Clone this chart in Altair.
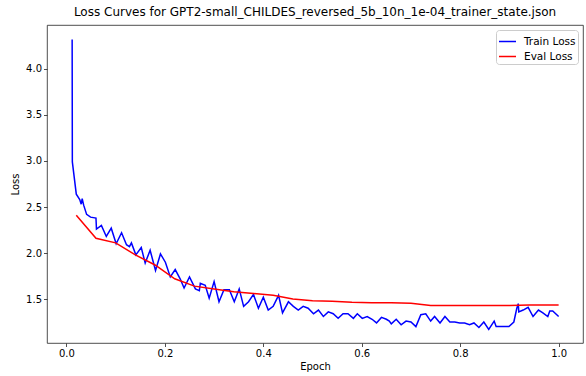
import altair as alt
import pandas as pd

TITLE = "Loss Curves for GPT2-small_CHILDES_reversed_5b_10n_1e-04_trainer_state.json"

train_epoch = [0.0116, 0.012, 0.020, 0.027, 0.030, 0.032, 0.035, 0.041, 0.049, 0.060,
               0.061, 0.071, 0.081, 0.091, 0.101, 0.112, 0.122, 0.128, 0.132, 0.141,
               0.152, 0.160, 0.170, 0.181, 0.191, 0.201, 0.211, 0.221, 0.231, 0.239,
               0.250, 0.262, 0.270, 0.272, 0.282, 0.290, 0.300, 0.310, 0.320, 0.331,
               0.341, 0.351, 0.360, 0.370, 0.380, 0.390, 0.400, 0.410, 0.420, 0.431,
               0.439, 0.451, 0.461, 0.471, 0.481, 0.491, 0.502, 0.512, 0.522, 0.532,
               0.542, 0.552, 0.562, 0.572, 0.583, 0.591, 0.601, 0.611, 0.621, 0.630,
               0.640, 0.650, 0.656, 0.660, 0.670, 0.680, 0.690, 0.700, 0.710, 0.720,
               0.730, 0.740, 0.748, 0.759, 0.769, 0.779, 0.789, 0.799, 0.809, 0.819,
               0.828, 0.838, 0.848, 0.858, 0.869, 0.873, 0.887, 0.899, 0.909, 0.915,
               0.918, 0.919, 0.928, 0.938, 0.948, 0.959, 0.968, 0.978, 0.982, 0.988,
               1.000]
train_loss = [4.32, 2.99, 2.64, 2.58, 2.53, 2.59, 2.52, 2.42, 2.39, 2.38,
              2.26, 2.30, 2.18, 2.27, 2.10, 2.22, 2.09, 2.07, 2.11, 1.98,
              2.06, 1.89, 2.03, 1.81, 1.99, 1.90, 1.74, 1.82, 1.72, 1.62,
              1.74, 1.61, 1.59, 1.67, 1.65, 1.51, 1.69, 1.47, 1.60, 1.60,
              1.47, 1.61, 1.42, 1.47, 1.55, 1.40, 1.52, 1.38, 1.42, 1.54,
              1.35, 1.47, 1.42, 1.38, 1.42, 1.40, 1.34, 1.38, 1.31, 1.36,
              1.34, 1.29, 1.34, 1.34, 1.29, 1.34, 1.29, 1.31, 1.28, 1.24,
              1.30, 1.28, 1.26, 1.23, 1.28, 1.22, 1.26, 1.25, 1.20, 1.33,
              1.34, 1.26, 1.31, 1.24, 1.31, 1.25, 1.25, 1.24, 1.24, 1.22,
              1.24, 1.19, 1.25, 1.17, 1.26, 1.20, 1.20, 1.20, 1.25, 1.40,
              1.45, 1.36, 1.38, 1.41, 1.31, 1.38, 1.35, 1.31, 1.37, 1.37,
              1.31]

eval_epoch = [0.02, 0.06, 0.10, 0.14, 0.18, 0.22, 0.26, 0.30, 0.34, 0.38,
              0.42, 0.46, 0.50, 0.54, 0.58, 0.62, 0.66, 0.70, 0.74, 0.78,
              0.82, 0.86, 0.90, 0.94, 0.98, 1.00]
eval_loss = [2.41, 2.16, 2.11, 1.98, 1.87, 1.72, 1.64, 1.61, 1.58, 1.56,
             1.54, 1.50, 1.48, 1.475, 1.465, 1.46, 1.46, 1.455, 1.43, 1.43,
             1.43, 1.43, 1.43, 1.435, 1.435, 1.435]

series_names = ["Train Loss", "Eval Loss"]
series_colors = ["#0000ff", "#ff0000"]
x_ticks = [0.0, 0.2, 0.4, 0.6, 0.8, 1.0]
y_ticks = [1.5, 2.0, 2.5, 3.0, 3.5, 4.0]

df = pd.concat([
    pd.DataFrame({"epoch": train_epoch, "loss": train_loss, "series": series_names[0]}),
    pd.DataFrame({"epoch": eval_epoch, "loss": eval_loss, "series": series_names[1]}),
], ignore_index=True)

FONT = "DejaVu Sans"

chart = alt.Chart(df).mark_line(strokeWidth=1.5, clip=True).encode(
    x=alt.X("epoch:Q", title="Epoch",
            scale=alt.Scale(domain=[-0.0395, 1.0495], nice=False, zero=False),
            axis=alt.Axis(values=x_ticks, format=".1f")),
    y=alt.Y("loss:Q", title="Loss",
            scale=alt.Scale(domain=[1.022, 4.478], nice=False, zero=False),
            axis=alt.Axis(values=y_ticks, format=".1f")),
    color=alt.Color("series:N",
                    scale=alt.Scale(domain=series_names, range=series_colors),
                    legend=alt.Legend(title=None, orient="top-right")),
).properties(
    width=536,
    height=318,
    title=alt.Title(TITLE, fontSize=12, fontWeight="normal", font=FONT, offset=6, color="black"),
    autosize=alt.AutoSizeParams(type="none"),
    padding={"left": 47, "top": 25, "right": 3, "bottom": 33},
).configure_view(
    stroke="#222222", strokeWidth=0.8
).configure_axis(
    domain=False, grid=False, tickColor="#222222", tickSize=3.5, tickWidth=0.8,
    labelFont=FONT, labelFontSize=10, labelColor="black", labelPadding=2,
    titleFont=FONT, titleFontSize=10, titleFontWeight="normal", titleColor="black",
).configure_axisX(titlePadding=3).configure_axisY(titlePadding=5).configure_legend(
    fillColor="white", strokeColor="#cccccc", cornerRadius=3, padding=2, offset=5,
    symbolType="stroke", symbolSize=289, symbolStrokeWidth=1.5,
    labelFont=FONT, labelFontSize=10.5, labelColor="black", rowPadding=-2, labelOffset=7,
)

chart.save("out.html", embed_options={"renderer": "svg", "actions": False})
